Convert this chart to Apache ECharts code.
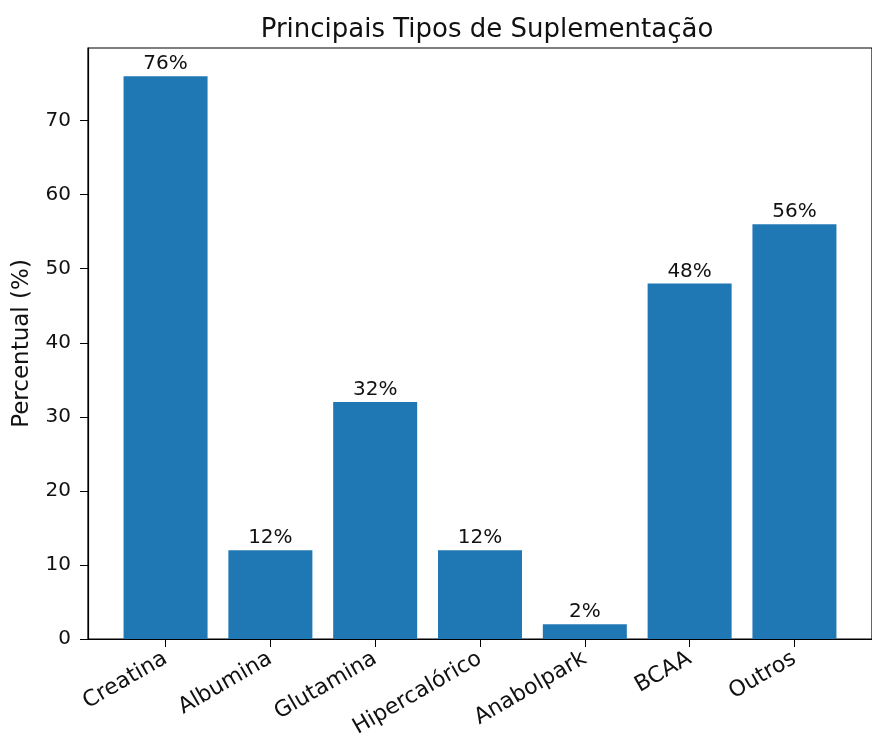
<!DOCTYPE html>
<html>
<head>
<meta charset="utf-8">
<script src="https://cdn.jsdelivr.net/npm/echarts@6/dist/echarts.min.js"></script>
<style>
  html, body { margin: 0; padding: 0; background: #fff; }
  #chart { width: 872px; height: 745px; }
</style>
</head>
<body>
<div id="chart"></div>
<script>
// dados
var categorias = ['Creatina', 'Albumina', 'Glutamina', 'Hipercalórico', 'Anabolpark', 'BCAA', 'Outros']
var percentuais = [76, 12, 32, 12, 2, 48, 56]
var yTicks = [0, 10, 20, 30, 40, 50, 60, 70]

var posicoes = categorias.map(function (c, i) { return i })
var barData = percentuais.map(function (v, i) { return [i, v] })

var myChart = echarts.init(document.getElementById('chart'))
var fonte = 'DejaVu Sans'

var option = {
  animation: false,
  title: {
    text: 'Principais Tipos de Suplementação',
    left: 482,
    top: 12,
    textAlign: 'center',
    textStyle: { fontFamily: fonte, fontSize: 26, fontWeight: 'normal', color: '#111' }
  },
  grid: {
    left: 88,
    top: 48,
    right: -5,
    bottom: 106,
    show: true,
    borderColor: '#000',
    borderWidth: 1.2
  },
  xAxis: {
    type: 'value',
    min: -0.74,
    max: 6.74,
    splitLine: { show: false },
    axisLine: { show: true, onZero: false, lineStyle: { color: '#000', width: 1.2 } },
    axisTick: { show: true, length: 8, customValues: posicoes, lineStyle: { color: '#000' } },
    axisLabel: {
      customValues: posicoes,
      rotate: 30,
      margin: 18,
      fontFamily: fonte,
      fontSize: 22,
      color: '#111',
      formatter: function (v) { return categorias[Math.round(v)] }
    }
  },
  yAxis: {
    type: 'value',
    min: 0,
    max: 79.8,
    name: 'Percentual (%)',
    nameLocation: 'middle',
    nameGap: 54,
    nameTextStyle: { fontFamily: fonte, fontSize: 23, color: '#111' },
    splitLine: { show: false },
    axisLine: { show: true, onZero: false, lineStyle: { color: '#000', width: 1.2 } },
    axisTick: { show: true, length: 8, customValues: yTicks, lineStyle: { color: '#000' } },
    axisLabel: {
      customValues: yTicks,
      margin: 17,
      fontFamily: fonte,
      fontSize: 20,
      color: '#111'
    }
  },
  series: [
    {
      type: 'bar',
      data: barData,
      barWidth: 84,
      itemStyle: { color: '#1f77b4' },
      label: {
        show: true,
        position: 'top',
        distance: 2,
        fontFamily: fonte,
        fontSize: 20,
        color: '#111',
        formatter: function (p) { return p.value[1] + '%' }
      }
    }
  ]
}

myChart.setOption(option)
</script>
</body>
</html>
